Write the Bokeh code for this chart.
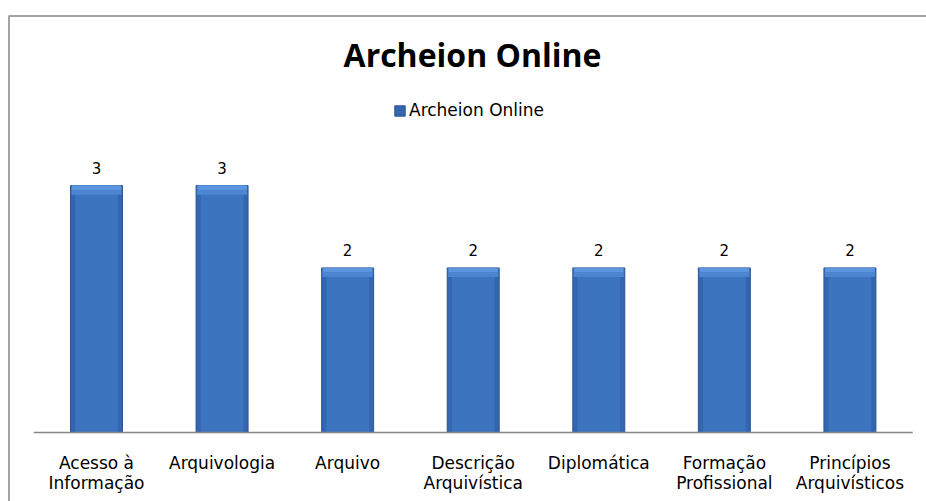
from bokeh.plotting import figure
from bokeh.models import ColumnDataSource, Range1d, Label, Legend, LegendItem
from bokeh.core.properties import value
from bokeh.embed import file_html
from bokeh.resources import INLINE

categories = ["Acesso à Informação", "Arquivologia", "Arquivo", "Descrição Arquivística",
              "Diplomática", "Formação Profissional", "Princípios Arquivísticos"]
label_line1 = ["Acesso à", "Arquivologia", "Arquivo", "Descrição",
               "Diplomática", "Formação", "Princípios"]
label_line2 = ["Informação", "", "", "Arquivística", "", "Profissional", "Arquivísticos"]
values = [3, 3, 2, 2, 2, 2, 2]
series_name = "Archeion Online"
title_text = "Archeion Online"

W, H = 926, 501
# layout in pixels: first bar centre, step between bars, baseline, pixels per unit
X0, STEP, BASE, UNIT = 96.0, 125.57, 432.0, 82.3

def px2x(px):
    return (px - X0) / STEP

def py2y(py):
    return (BASE - py) / UNIT

idx = list(range(len(categories)))
src = ColumnDataSource(dict(x=idx, val=values, cap=[v - 0.11 for v in values],
                            cap2=[v - 0.05 for v in values],
                            lbl=[str(v) for v in values], l1=label_line1, l2=label_line2,
                            zero=[0] * len(values)))

p = figure(x_range=Range1d(px2x(0), px2x(W)), y_range=Range1d(py2y(H), py2y(0)),
           width=W, height=H, output_backend="svg", toolbar_location=None,
           x_axis_location=None, y_axis_location=None,
           min_border_left=0, min_border_right=0, min_border_top=0, min_border_bottom=0)
p.outline_line_color = None
p.grid.visible = False
p.background_fill_color = "white"

# chart border (left and top edges visible)
p.line(x=[px2x(8.5), px2x(8.5), px2x(W + 5)], y=[py2y(H + 5), py2y(15.5), py2y(15.5)],
       line_color="#A3A3A3", line_width=2)

base = p.vbar(x="x", top="val", width=0.414, source=src, fill_color="#3466B0",
              line_color="#2B5592", line_width=1)
p.vbar(x="x", top="val", width=0.34, source=src, fill_color="#3D74C0", line_color=None)
p.vbar(x="x", top="val", bottom="cap", width=0.40, source=src, fill_color="#4C86D3",
       line_color=None)
p.vbar(x="x", top="val", bottom="cap2", width=0.39, source=src, fill_color="#5C96DE",
       line_color=None)

# category axis line
n = len(categories)
p.segment(x0=[-0.5], y0=[0], x1=[n - 0.5], y1=[0], line_color="#868686", line_width=1.5)

p.text(x="x", y="val", text="lbl", source=src, text_align="center", text_baseline="middle",
       y_offset=-18, text_font_size="15px", text_color="#000000",
       text_font=value("DejaVu Sans"))

for col, off in (("l1", 30), ("l2", 50)):
    p.text(x="x", y="zero", text=col, source=src, text_align="center", text_baseline="middle",
           y_offset=off, text_font_size="17px", text_color="#000000",
           text_font=value("DejaVu Sans"))

legend = Legend(items=[LegendItem(label=series_name, renderers=[base])], location=(393, 381),
                orientation="horizontal", border_line_color=None, background_fill_alpha=0,
                label_text_font="DejaVu Sans", label_text_font_size="17px",
                label_text_color="#000000",
                glyph_width=13, glyph_height=13, margin=0, padding=2, label_standoff=3)
p.add_layout(legend)

p.add_layout(Label(x=px2x(472), y=py2y(54), text=title_text,
                   text_align="center", text_baseline="middle", text_font="Open Sans",
                   text_font_style="bold", text_font_size="32px", text_color="#000000"))

open("out.html", "w").write(file_html(p, INLINE))
